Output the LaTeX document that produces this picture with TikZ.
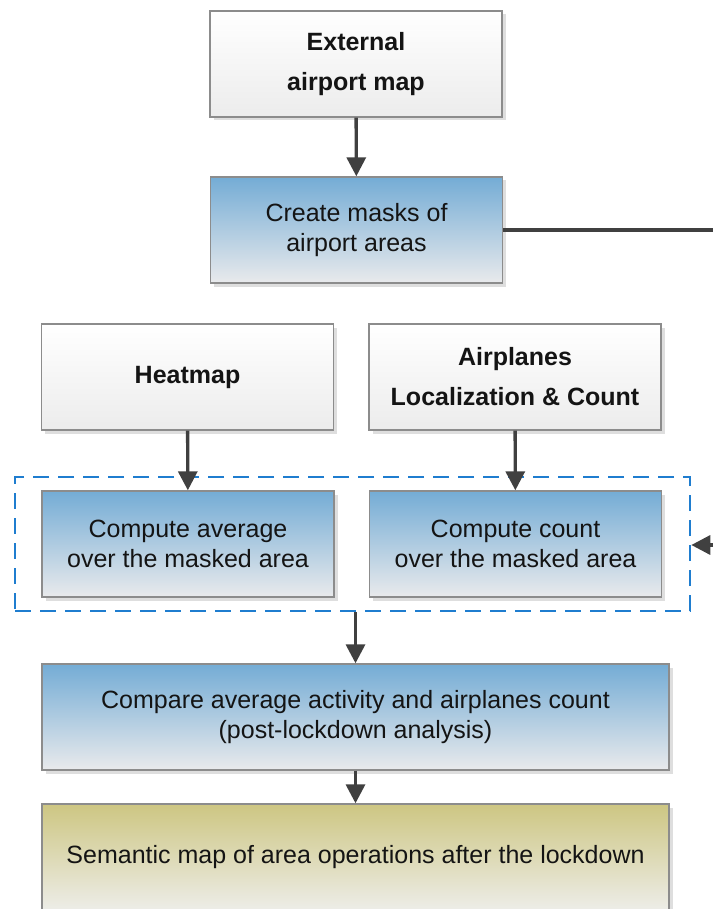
\documentclass[tikz,border=0pt]{standalone}
\usepackage{fontspec}
\setmainfont{Liberation Sans}
\usetikzlibrary{arrows.meta,shadows}

\definecolor{edgegrey}{HTML}{8C8C8C}
\definecolor{linkgrey}{HTML}{404040}
\definecolor{bluetop}{HTML}{74ACD5}
\definecolor{bluebot}{HTML}{E9EAEC}
\definecolor{olivetop}{HTML}{CDC682}
\definecolor{olivebot}{HTML}{EDEDE8}
\definecolor{greybot}{HTML}{ECECEC}
\definecolor{dashblue}{HTML}{1F7DCF}
\definecolor{shadowgrey}{HTML}{DEDEDE}

\tikzset{
  box/.style={draw=edgegrey, line width=1.4pt, minimum width=292pt, minimum height=106pt,
    align=center, text=black!92, inner sep=0pt,
    drop shadow={shadow xshift=3.5pt, shadow yshift=-3.5pt, fill=shadowgrey, opacity=1}},
  inputbox/.style={box, top color=white, bottom color=greybot,
    font=\bfseries\fontsize{25}{40}\selectfont},
  procbox/.style={box, top color=bluetop, bottom color=bluebot,
    font=\fontsize{25}{30}\selectfont},
  resultbox/.style={box, top color=olivetop, bottom color=olivebot,
    font=\fontsize{25}{30}\selectfont},
  groupbox/.style={draw=dashblue, line width=2.6pt, dash pattern=on 16pt off 9pt,
    minimum width=675pt, minimum height=134pt, inner sep=0pt},
  link/.style={draw=linkgrey, line width=3.4pt,
    -{Triangle[length=19pt, width=19pt]}},
  plainlink/.style={draw=linkgrey, line width=3.2pt}
}

\begin{document}
\begin{tikzpicture}[x=1pt, y=-1pt]
  \useasboundingbox (0,0) rectangle (713,909);

  % inputs and mask creation
  \node[inputbox] (extmap) at (356,64) {External\\airport map};
  \node[procbox] (masks) at (356.5,230) {Create masks of\\airport areas};

  \node[inputbox] (heat) at (187.5,377) {Heatmap};
  \node[inputbox] (planes) at (515,377) {Airplanes\\Localization \& Count};

  % masked computations, grouped
  \node[groupbox] (group) at (352.5,544) {};
  \node[procbox] (avg) at (188,544) {Compute average\\over the masked area};
  \node[procbox] (cnt) at (515.5,544) {Compute count\\over the masked area};

  % comparison and result
  \node[procbox, minimum width=627pt] (cmp) at (355.5,717)
    {Compare average activity and airplanes count\\(post-lockdown analysis)};
  \node[resultbox, minimum width=627pt] (sem) at (355.5,857)
    {Semantic map of area operations after the lockdown};

  % loose ends at the right border
  \coordinate (maskout) at (713,230);
  \coordinate (groupin) at (713,545);

  % connectors
  \draw[link] (extmap) -- (masks);
  \draw[link] (heat) -- (avg);
  \draw[link] (planes) -- (cnt);
  \draw[link] (group.south -| cmp.north) -- (cmp.north);
  \draw[link] (cmp) -- (sem);
  \draw[plainlink] (masks.east) -- (maskout);
  \draw[link] (groupin) -- (group.east |- groupin);
\end{tikzpicture}
\end{document}
